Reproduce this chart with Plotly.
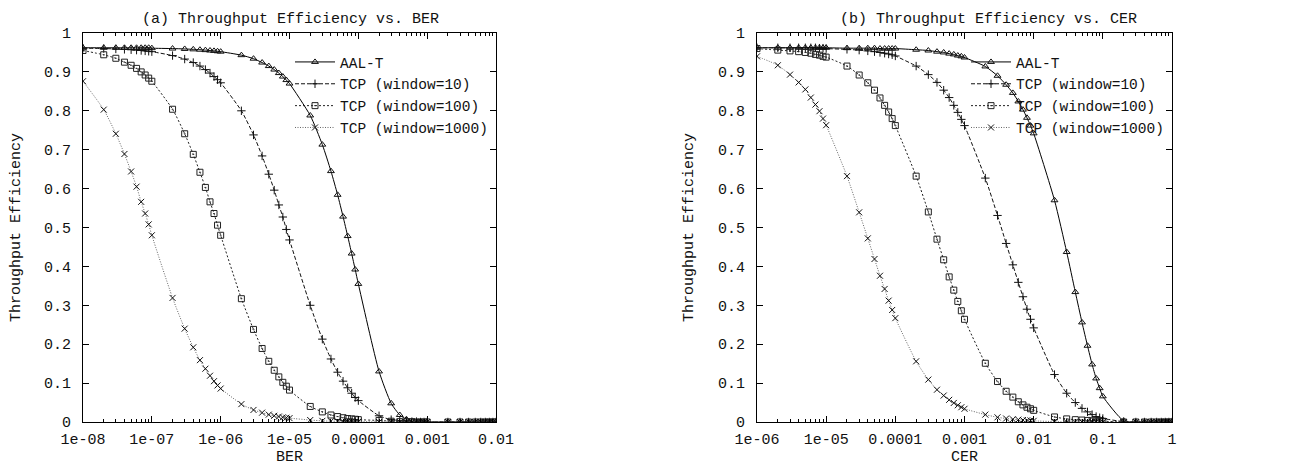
import plotly.graph_objects as go

# ---------------- data ----------------
BER = [1e-8, 2e-8, 3e-8, 4e-8, 5e-8, 6e-8, 7e-8, 8e-8, 9e-8,
       1e-7, 2e-7, 3e-7, 4e-7, 5e-7, 6e-7, 7e-7, 8e-7, 9e-7,
       1e-6, 2e-6, 3e-6, 4e-6, 5e-6, 6e-6, 7e-6, 8e-6, 9e-6,
       1e-5, 2e-5, 3e-5, 4e-5, 5e-5, 6e-5, 7e-5, 8e-5, 9e-5,
       1e-4, 2e-4, 3e-4, 4e-4, 5e-4, 6e-4, 7e-4, 8e-4, 9e-4,
       1e-3, 2e-3, 3e-3, 4e-3, 5e-3, 6e-3, 7e-3, 8e-3, 9e-3,
       1e-2]

CER = [1e-6, 2e-6, 3e-6, 4e-6, 5e-6, 6e-6, 7e-6, 8e-6, 9e-6,
       1e-5, 2e-5, 3e-5, 4e-5, 5e-5, 6e-5, 7e-5, 8e-5, 9e-5,
       1e-4, 2e-4, 3e-4, 4e-4, 5e-4, 6e-4, 7e-4, 8e-4, 9e-4,
       1e-3, 2e-3, 3e-3, 4e-3, 5e-3, 6e-3, 7e-3, 8e-3, 9e-3,
       1e-2, 2e-2, 3e-2, 4e-2, 5e-2, 6e-2, 7e-2, 8e-2, 9e-2,
       1e-1, 2e-1, 3e-1, 4e-1, 5e-1, 6e-1, 7e-1, 8e-1, 9e-1,
       1.0]

# (a) vs BER
aal_ber = [0.962, 0.962, 0.962, 0.962, 0.962, 0.962, 0.962, 0.962, 0.962,
           0.961, 0.960, 0.959, 0.958, 0.957, 0.956, 0.955, 0.954, 0.953,
           0.952, 0.943, 0.934, 0.924, 0.915, 0.906, 0.897, 0.888, 0.879,
           0.870, 0.788, 0.713, 0.645, 0.584, 0.528, 0.478, 0.433, 0.392,
           0.355, 0.130, 0.048, 0.018, 0.007, 0.002, 0.001, 0.000, 0.000,
           0.000, 0.000, 0.000, 0.000, 0.000, 0.000, 0.000, 0.000, 0.000,
           0.000]
tcp10_ber = [0.961, 0.960, 0.959, 0.958, 0.957, 0.956, 0.955, 0.954, 0.953,
             0.952, 0.942, 0.933, 0.924, 0.915, 0.906, 0.897, 0.888, 0.880,
             0.872, 0.800, 0.738, 0.684, 0.637, 0.596, 0.558, 0.527, 0.495,
             0.468, 0.300, 0.213, 0.162, 0.128, 0.105, 0.088, 0.074, 0.063,
             0.055, 0.016, 0.006, 0.003, 0.002, 0.001, 0.001, 0.000, 0.000,
             0.000, 0.000, 0.000, 0.000, 0.000, 0.000, 0.000, 0.000, 0.000,
             0.000]
tcp100_ber = [0.955, 0.944, 0.935, 0.925, 0.917, 0.909, 0.900, 0.892, 0.884,
              0.876, 0.804, 0.741, 0.688, 0.642, 0.603, 0.566, 0.536, 0.506,
              0.480, 0.317, 0.238, 0.189, 0.156, 0.133, 0.116, 0.102, 0.092,
              0.082, 0.040, 0.026, 0.018, 0.014, 0.011, 0.009, 0.008, 0.007,
              0.006, 0.004, 0.002, 0.001, 0.001, 0.001, 0.000, 0.000, 0.000,
              0.000, 0.000, 0.000, 0.000, 0.000, 0.000, 0.000, 0.000, 0.000,
              0.000]
tcp1000_ber = [0.876, 0.803, 0.741, 0.689, 0.644, 0.605, 0.566, 0.536, 0.508,
               0.480, 0.319, 0.240, 0.192, 0.159, 0.137, 0.119, 0.105, 0.094,
               0.086, 0.046, 0.031, 0.024, 0.019, 0.016, 0.014, 0.012, 0.011,
               0.010, 0.005, 0.003, 0.002, 0.002, 0.001, 0.001, 0.001, 0.001,
               0.001, 0.000, 0.000, 0.000, 0.000, 0.000, 0.000, 0.000, 0.000,
               0.000, 0.000, 0.000, 0.000, 0.000, 0.000, 0.000, 0.000, 0.000,
               0.000]

# (b) vs CER
aal_cer = [0.962, 0.962, 0.962, 0.962, 0.962, 0.962, 0.962, 0.962, 0.962,
           0.962, 0.961, 0.961, 0.961, 0.961, 0.960, 0.960, 0.960, 0.960,
           0.960, 0.957, 0.955, 0.952, 0.950, 0.947, 0.945, 0.942, 0.940,
           0.937, 0.914, 0.890, 0.867, 0.846, 0.824, 0.803, 0.782, 0.762,
           0.742, 0.570, 0.437, 0.334, 0.256, 0.196, 0.148, 0.112, 0.087,
           0.066, 0.003, 0.000, 0.000, 0.000, 0.000, 0.000, 0.000, 0.000,
           0.000]
tcp10_cer = [0.962, 0.962, 0.962, 0.962, 0.962, 0.962, 0.962, 0.961, 0.961,
             0.960, 0.958, 0.956, 0.954, 0.952, 0.950, 0.948, 0.946, 0.944,
             0.941, 0.915, 0.893, 0.873, 0.853, 0.834, 0.814, 0.796, 0.778,
             0.762, 0.627, 0.531, 0.459, 0.404, 0.359, 0.322, 0.290, 0.264,
             0.242, 0.122, 0.074, 0.050, 0.035, 0.026, 0.019, 0.014, 0.011,
             0.009, 0.001, 0.000, 0.000, 0.000, 0.000, 0.000, 0.000, 0.000,
             0.000]
tcp100_cer = [0.960, 0.956, 0.954, 0.952, 0.950, 0.948, 0.945, 0.943, 0.940,
              0.938, 0.915, 0.892, 0.872, 0.853, 0.833, 0.814, 0.797, 0.780,
              0.762, 0.632, 0.540, 0.470, 0.417, 0.373, 0.339, 0.310, 0.286,
              0.264, 0.151, 0.104, 0.079, 0.064, 0.052, 0.044, 0.038, 0.034,
              0.030, 0.013, 0.008, 0.006, 0.005, 0.004, 0.003, 0.003, 0.002,
              0.002, 0.000, 0.000, 0.000, 0.000, 0.000, 0.000, 0.000, 0.000,
              0.000]
tcp1000_cer = [0.940, 0.917, 0.893, 0.873, 0.855, 0.834, 0.816, 0.799, 0.780,
               0.763, 0.632, 0.539, 0.472, 0.419, 0.376, 0.342, 0.312, 0.288,
               0.267, 0.156, 0.109, 0.083, 0.068, 0.057, 0.049, 0.043, 0.038,
               0.034, 0.019, 0.012, 0.009, 0.007, 0.006, 0.005, 0.004, 0.004,
               0.003, 0.001, 0.000, 0.000, 0.000, 0.000, 0.000, 0.000, 0.000,
               0.000, 0.000, 0.000, 0.000, 0.000, 0.000, 0.000, 0.000, 0.000,
               0.000]

series_names = ["AAL-T", "TCP (window=10)", "TCP (window=100)", "TCP (window=1000)"]
ber_ticks = [1e-8, 1e-7, 1e-6, 1e-5, 1e-4, 1e-3, 1e-2]
ber_ticktext = ["1e-08", "1e-07", "1e-06", "1e-05", "0.0001", "0.001", "0.01"]
cer_ticks = [1e-6, 1e-5, 1e-4, 1e-3, 1e-2, 1e-1, 1.0]
cer_ticktext = ["1e-06", "1e-05", "0.0001", "0.001", "0.01", "0.1", "1"]
y_ticks = [0, 0.1, 0.2, 0.3, 0.4, 0.5, 0.6, 0.7, 0.8, 0.9, 1.0]
y_ticktext = ["0", "0.1", "0.2", "0.3", "0.4", "0.5", "0.6", "0.7", "0.8", "0.9", "1"]

# ---------------- styling ----------------
FONT = "Liberation Mono, Courier New, monospace"
FS = 15
TXT = "#111111"
styles = [
    dict(line=dict(color="#000000", width=1, dash="solid"),
         marker=dict(symbol="triangle-up-open", size=6, color="#111111", line=dict(width=1, color="#111111"))),
    dict(line=dict(color="#111111", width=1, dash="4px,2px"),
         marker=dict(symbol="cross-thin-open", size=6, color="#111111", line=dict(width=1, color="#111111"))),
    dict(line=dict(color="#222222", width=1, dash="2px,2px"),
         marker=dict(symbol="square-open-dot", size=6, color="#222222", line=dict(width=1, color="#222222"))),
    dict(line=dict(color="#666666", width=1, dash="1px,1.5px"),
         marker=dict(symbol="x-thin-open", size=6, color="#111111", line=dict(width=1, color="#111111"))),
]

fig = go.Figure()
for ys, st, nm in zip([aal_ber, tcp10_ber, tcp100_ber, tcp1000_ber], styles, series_names):
    fig.add_trace(go.Scatter(x=BER, y=ys, name=nm, mode="lines+markers",
                             line=dict(st["line"], shape="spline", smoothing=0.6),
                             marker=st["marker"], xaxis="x", yaxis="y", legend="legend"))
for ys, st, nm in zip([aal_cer, tcp10_cer, tcp100_cer, tcp1000_cer], styles, series_names):
    fig.add_trace(go.Scatter(x=CER, y=ys, name=nm, mode="lines+markers",
                             line=dict(st["line"], shape="spline", smoothing=0.6),
                             marker=st["marker"], xaxis="x2", yaxis="y2", legend="legend2"))

# The page body adds an 8 px offset; the figure is sized to fit the window.
OFF = 8
W, H = 1313 - OFF, 471 - OFF
L = 83 - OFF
T = 33 - OFF
R = W - (1172 - OFF)
B = H - (422 - OFF)
pw = W - L - R
ph = H - T - B


def px_x(X):
    return (X - OFF - L) / pw


def px_y(Y):
    return (H - B - (Y - OFF)) / ph


minor_ber = [m * 10.0 ** k for k in range(-8, -2) for m in range(2, 10)]
minor_cer = [m * 10.0 ** k for k in range(-6, 0) for m in range(2, 10)]

common_axis = dict(showline=True, linecolor="black", linewidth=1, mirror="allticks",
                   ticks="inside", ticklen=6, tickcolor="black", tickwidth=1,
                   showgrid=False, zeroline=False, automargin=False,
                   tickfont=dict(family=FONT, size=FS, color=TXT))

xa = dict(common_axis, type="log", range=[-8, -2], domain=[0, px_x(496)], anchor="y",
          tickmode="array", tickvals=ber_ticks, ticktext=ber_ticktext, ticklabelstandoff=3,
          minor=dict(tickmode="array", tickvals=minor_ber, ticks="inside", ticklen=3,
                     tickcolor="black", showgrid=False),
          title=dict(text="BER", font=dict(family=FONT, size=FS, color=TXT), standoff=0))
xa2 = dict(common_axis, type="log", range=[-6, 0], domain=[px_x(757), 1], anchor="y2",
           tickmode="array", tickvals=cer_ticks, ticktext=cer_ticktext, ticklabelstandoff=3,
           minor=dict(tickmode="array", tickvals=minor_cer, ticks="inside", ticklen=3,
                      tickcolor="black", showgrid=False),
           title=dict(text="CER", font=dict(family=FONT, size=FS, color=TXT), standoff=0))
ya = dict(common_axis, range=[0, 1], anchor="x", tickmode="array", tickvals=y_ticks,
          ticktext=y_ticktext, ticklabelstandoff=8,
          title=dict(text="Throughput Efficiency", font=dict(family=FONT, size=FS, color=TXT),
                     standoff=20))
ya2 = dict(common_axis, range=[0, 1], anchor="x2", tickmode="array", tickvals=y_ticks,
           ticktext=y_ticktext, ticklabelstandoff=8,
           title=dict(text="Throughput Efficiency", font=dict(family=FONT, size=FS, color=TXT),
                      standoff=20))

leg_common = dict(bgcolor="rgba(0,0,0,0)", borderwidth=0, yanchor="top", xanchor="right",
                  font=dict(family=FONT, size=14.5, color=TXT), tracegroupgap=0,
                  itemwidth=40)

fig.update_layout(
    width=W, height=H, autosize=False,
    margin=dict(l=L, r=R, t=T, b=B, pad=0, autoexpand=False),
    paper_bgcolor="white", plot_bgcolor="white",
    font=dict(family=FONT, size=FS, color=TXT),
    xaxis=xa, yaxis=ya, xaxis2=xa2, yaxis2=ya2,
    legend=dict(leg_common, x=px_x(493), y=px_y(46)),
    legend2=dict(leg_common, x=px_x(1169), y=px_y(46)),
    annotations=[
        dict(text="(a) Throughput Efficiency vs. BER", xref="paper", yref="paper",
             x=px_x(290), y=px_y(19), showarrow=False, xanchor="center", yanchor="middle",
             font=dict(family=FONT, size=FS, color=TXT)),
        dict(text="(b) Throughput Efficiency vs. CER", xref="paper", yref="paper",
             x=px_x(988), y=px_y(19), showarrow=False, xanchor="center", yanchor="middle",
             font=dict(family=FONT, size=FS, color=TXT)),
    ],
)

fig.write_html("out.html")
